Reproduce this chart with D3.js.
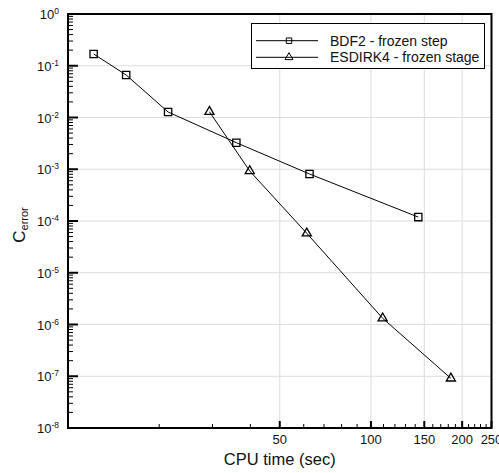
<!DOCTYPE html>
<html>
<head>
<meta charset="utf-8">
<script src="https://cdn.jsdelivr.net/npm/d3@7/dist/d3.min.js"></script>
<style>
  html, body { margin: 0; padding: 0; background: #fff; }
  svg { display: block; font-family: "Liberation Sans", Arial, sans-serif; }
</style>
</head>
<body>
<svg id="chart" width="499" height="473"></svg>
<script>
// Convergence: error coefficient versus CPU time
const bdf2Time  = [12.15, 15.56, 21.4, 35.95, 62.7, 143.3];
const bdf2Error = [0.169, 0.0663, 0.01277, 0.00326, 0.00081, 0.000119];

const esdirkTime  = [29.3, 39.8, 61.4, 109.3, 183.6];
const esdirkError = [0.01294, 0.000925, 5.78e-5, 1.32e-6, 9.1e-8];

const seriesNames = ["BDF2 - frozen step", "ESDIRK4 - frozen stage"];
const xTickLabels = [50, 100, 150, 200, 250];
const yDecades = [0, -1, -2, -3, -4, -5, -6, -7, -8];

const svg = d3.select("#chart");
const W = 499, H = 473;
const margin = { left: 68, top: 14, right: W - 491.5, bottom: H - 428 };
const x0 = margin.left, x1 = W - margin.right, y0 = margin.top, y1 = H - margin.bottom;

const x = d3.scaleLog().domain([10, 250]).range([x0, x1]);
const y = d3.scaleLog().domain([1e-8, 1]).range([y1, y0]);

// grid lines
const grid = svg.append("g").attr("stroke", "#dcdcdc").attr("stroke-width", 1);
yDecades.forEach(p => {
  const yy = y(Math.pow(10, p));
  grid.append("line").attr("x1", x0).attr("x2", x1).attr("y1", yy).attr("y2", yy);
});
xTickLabels.forEach(v => {
  const xx = x(v);
  grid.append("line").attr("x1", xx).attr("x2", xx).attr("y1", y0).attr("y2", y1);
});

// y ticks, pointing inward
const yt = svg.append("g").attr("stroke", "#000");
for (let p = -8; p <= 0; p++) {
  const base = Math.pow(10, p);
  yt.append("line").attr("x1", x0).attr("x2", x0 + 10)
    .attr("y1", y(base)).attr("y2", y(base)).attr("stroke-width", 2);
  if (p < 0) {
    for (let m = 2; m <= 9; m++) {
      const yy = y(m * base);
      yt.append("line").attr("x1", x0).attr("x2", x0 + 5)
        .attr("y1", yy).attr("y2", yy).attr("stroke-width", 1);
    }
  }
}

// x ticks, pointing inward
const xt = svg.append("g").attr("stroke", "#000");
const xMinor = [20, 30, 40, 60, 70, 80, 90, 110, 120, 130, 140, 160, 170, 180, 190, 210, 220, 230, 240];
xMinor.forEach(v => {
  xt.append("line").attr("x1", x(v)).attr("x2", x(v)).attr("y1", y1).attr("y2", y1 - 4).attr("stroke-width", 1);
});
xTickLabels.forEach(v => {
  xt.append("line").attr("x1", x(v)).attr("x2", x(v)).attr("y1", y1).attr("y2", y1 - 7).attr("stroke-width", 2);
});

// frame
svg.append("rect").attr("x", x0).attr("y", y0).attr("width", x1 - x0).attr("height", y1 - y0)
  .attr("fill", "none").attr("stroke", "#000").attr("stroke-width", 2);

// y tick labels 10^p
const ylab = svg.append("g").attr("fill", "#111");
yDecades.forEach(p => {
  const t = ylab.append("text").attr("x", x0 - 9).attr("y", y(Math.pow(10, p)) + 5)
    .attr("text-anchor", "end").attr("font-size", 13);
  t.append("tspan").text("10");
  t.append("tspan").attr("dy", -5).attr("font-size", 8.5).text(p);
});

// x tick labels
const xlab = svg.append("g").attr("fill", "#111");
xTickLabels.forEach(v => {
  xlab.append("text").attr("x", x(v)).attr("y", 443.5).attr("text-anchor", "middle")
    .attr("font-size", 13).text(v);
});

// axis titles
svg.append("text").attr("x", (x0 + x1) / 2).attr("y", 465).attr("text-anchor", "middle")
  .attr("font-size", 16.5).attr("fill", "#111").text("CPU time (sec)");
const yTitle = svg.append("text").attr("transform", "translate(25,225) rotate(-90)")
  .attr("text-anchor", "middle").attr("font-size", 17).attr("fill", "#111");
yTitle.append("tspan").text("C");
yTitle.append("tspan").attr("dy", 3).attr("font-size", 11).text("error");

// series
const line = d3.line().x(d => x(d[0])).y(d => y(d[1]));
const bdf = bdf2Time.map((t, i) => [t, bdf2Error[i]]);
const esd = esdirkTime.map((t, i) => [t, esdirkError[i]]);

svg.append("path").datum(bdf).attr("d", line).attr("fill", "none").attr("stroke", "#000").attr("stroke-width", 1);
svg.append("path").datum(esd).attr("d", line).attr("fill", "none").attr("stroke", "#000").attr("stroke-width", 1);

const sq = d3.symbol().type(d3.symbolSquare).size(53);
const tri = d3.symbol().type(d3.symbolTriangle).size(36);

svg.append("g").selectAll("path").data(bdf).join("path")
  .attr("transform", d => `translate(${x(d[0])},${y(d[1])})`)
  .attr("d", sq).attr("fill", "none").attr("stroke", "#000").attr("stroke-width", 1.3);
svg.append("g").selectAll("path").data(esd).join("path")
  .attr("transform", d => `translate(${x(d[0])},${y(d[1])})`)
  .attr("d", tri).attr("fill", "none").attr("stroke", "#000").attr("stroke-width", 1.3);

// legend
const lg = svg.append("g");
lg.append("rect").attr("x", 251.5).attr("y", 23.5).attr("width", 233).attr("height", 45)
  .attr("fill", "#fff").attr("stroke", "#000").attr("stroke-width", 1);
const legendMarks = [
  d3.symbol().type(d3.symbolSquare).size(30)(),
  d3.symbol().type(d3.symbolTriangle).size(28)()
];
[40.7, 57.3].forEach((ly, i) => {
  lg.append("line").attr("x1", 256).attr("x2", 318).attr("y1", ly).attr("y2", ly)
    .attr("stroke", "#000").attr("stroke-width", 1);
  lg.append("path").attr("transform", `translate(289,${ly})`)
    .attr("d", legendMarks[i]).attr("fill", "none").attr("stroke", "#000").attr("stroke-width", 1);
  lg.append("text").attr("x", 330).attr("y", ly + 5).attr("font-size", 14)
    .attr("fill", "#111").text(seriesNames[i]);
});
</script>
</body>
</html>
